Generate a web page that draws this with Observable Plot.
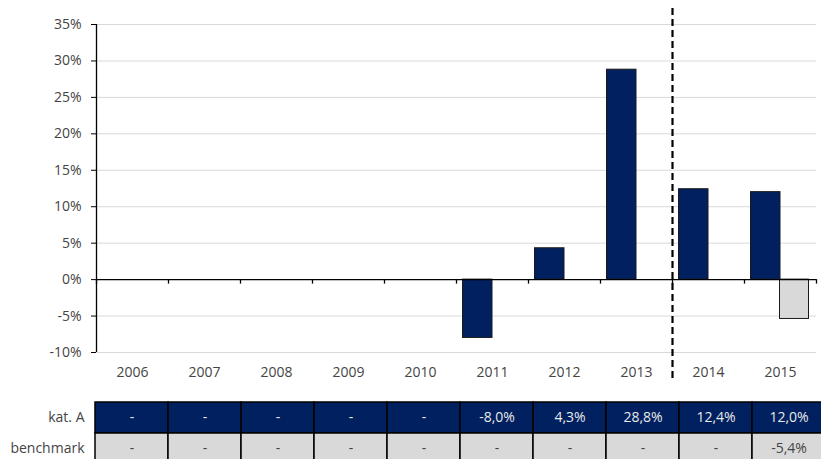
<!DOCTYPE html>
<html>
<head>
<meta charset="utf-8">
<script src="https://cdn.jsdelivr.net/npm/d3@7"></script>
<script src="https://cdn.jsdelivr.net/npm/@observablehq/plot@0.6"></script>
<style>
  html, body { margin: 0; padding: 0; background: #fff; }
  #chart svg, #table svg { display: block; }
</style>
</head>
<body>
<div id="chart"></div>
<div id="table"></div>
<script>
const years = ["2006","2007","2008","2009","2010","2011","2012","2013","2014","2015"];
const katA = [null, null, null, null, null, -8.0, 4.3, 28.8, 12.4, 12.0];
const benchmark = [null, null, null, null, null, null, null, null, null, -5.4];
const yTicks = [-10, -5, 0, 5, 10, 15, 20, 25, 30, 35];
const rowLabels = ["kat. A", "benchmark"];
const forecastStart = "2014";

const navy = "#002060";
const grey = "#d9d9d9";
const textColor = "#444444";
const font = {fontFamily: "'Open Sans', sans-serif", fontSize: "14px", color: textColor, background: "#fff"};

const katData = years.map((year, i) => ({year, v: katA[i]})).filter(d => d.v != null);
const benchData = years.map((year, i) => ({year, v: benchmark[i]})).filter(d => d.v != null);

const chart = Plot.plot({
  width: 821,
  height: 392,
  marginLeft: 96,
  marginRight: 5,
  marginTop: 24,
  marginBottom: 40,
  style: font,
  x: {type: "band", domain: years, paddingInner: 0, paddingOuter: 0, axis: null},
  y: {domain: [-10, 35], axis: null},
  marks: [
    Plot.ruleY(yTicks.filter(t => t !== 0), {stroke: "#d9d9d9", strokeWidth: 1}),
    Plot.barY(katData, {x: "year", y: "v", fill: navy, stroke: "#1a1a1a", strokeWidth: 1, insetLeft: 6.5, insetRight: 36}),
    Plot.barY(benchData, {x: "year", y: "v", fill: grey, stroke: "#1a1a1a", strokeWidth: 1, insetLeft: 35.5, insetRight: 7.5}),
    Plot.ruleY([0], {stroke: "#000", strokeWidth: 1.3}),
    // category boundary ticks on the zero line
    Plot.ruleX(years, {x: d => d, y1: 0, y2: 0, dx: -36, insetBottom: -4.5, stroke: "#000", strokeWidth: 1.3}),
    Plot.ruleX(years.slice(-1), {x: d => d, y1: 0, y2: 0, dx: 36, insetBottom: -4.5, stroke: "#000", strokeWidth: 1.3}),
    // y axis line
    Plot.ruleX(years.slice(0, 1), {x: d => d, dx: -36, stroke: "#000", strokeWidth: 1.3}),
    Plot.axisY(yTicks, {anchor: "left", tickSize: 5, tickPadding: 10, tickFormat: d => `${d}%`, stroke: "#000", fill: textColor, label: null}),
    Plot.axisX({anchor: "bottom", tickSize: 0, tickPadding: 15, fill: textColor, label: null}),
    // forecast divider
    Plot.ruleX([forecastStart], {x: d => d, dx: -36, insetTop: -16, insetBottom: -27, stroke: "#000", strokeWidth: 2.2, strokeDasharray: "7,4"})
  ]
});
document.getElementById("chart").appendChild(chart);

const fmt = v => v == null ? "-" : `${v.toFixed(1).replace(".", ",")}%`;
const tableData = [
  ...years.map((year, i) => ({year, row: rowLabels[0], label: fmt(katA[i])})),
  ...years.map((year, i) => ({year, row: rowLabels[1], label: fmt(benchmark[i])}))
];

const table = Plot.plot({
  width: 821,
  height: 67,
  marginLeft: 93,
  marginRight: 0,
  marginTop: 10,
  marginBottom: 0,
  style: font,
  x: {type: "band", domain: years, range: [93.3, 827], paddingInner: 0, paddingOuter: 0, axis: null},
  y: {type: "band", domain: rowLabels, range: [10, 72], paddingInner: 0, paddingOuter: 0, axis: null},
  color: {domain: rowLabels, range: [navy, grey]},
  marks: [
    Plot.cell(tableData, {x: "year", y: "row", fill: "row", stroke: "#000", strokeWidth: 1.5}),
    Plot.text(tableData, {x: "year", y: "row", text: "label", fill: d => d.row === rowLabels[0] ? "#e8e8e8" : textColor}),
    Plot.axisY({anchor: "left", tickSize: 0, tickPadding: 9, fill: textColor, label: null})
  ]
});
document.getElementById("table").appendChild(table);
</script>
</body>
</html>
